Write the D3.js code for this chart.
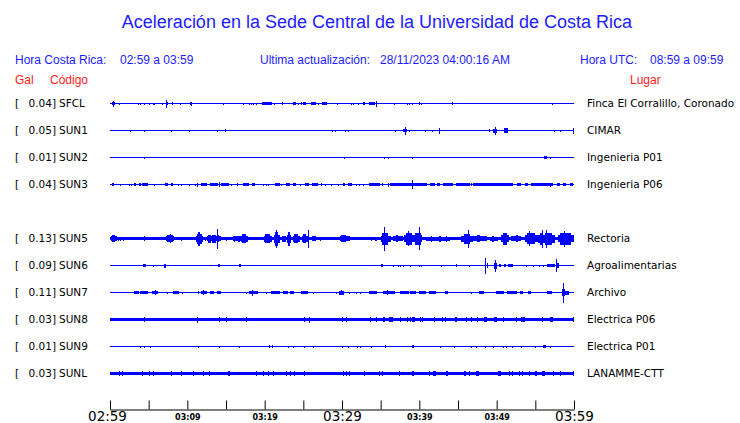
<!DOCTYPE html>
<html><head><meta charset="utf-8">
<script src="https://cdn.jsdelivr.net/npm/d3@7"></script>
<style>
html,body{margin:0;padding:0;background:#fff;}
svg{display:block;}
</style></head>
<body>
<script>
// ---------------- DATA ----------------
const title = "Aceleración en la Sede Central de la Universidad de Costa Rica";
const horaCR = "02:59 a 03:59";
const actualizacion = "28/11/2023 04:00:16 AM";
const horaUTC = "08:59 a 09:59";

// station rows (null = empty slot, SUN4 absent)
const codes  = ["SFCL","SUN1","SUN2","SUN3",null,"SUN5","SUN6","SUN7","SUN8","SUN9","SUNL"];
const gal    = ["0.04","0.05","0.01","0.04",null,"0.13","0.09","0.11","0.03","0.01","0.03"];
const places = ["Finca El Corralillo, Coronado","CIMAR","Ingenieria P01","Ingenieria P06",null,
                "Rectoria","Agroalimentarias","Archivo","Electrica P06","Electrica P01","LANAMME-CTT"];
// background noise level of each trace (amplitude units)
const noise  = [0.6,0.5,0.5,0.6,null,1.5,0.5,0.5,1.7,0.5,1.7];

// tick minutes (from 02:59) and labels
const tickMinutes = [0,5,10,15,20,25,30,35,40,45,50,55,60];
const labelMinutes = [0,10,20,30,40,50,60];
const labelText = ["02:59","03:09","03:19","03:29","03:39","03:49","03:59"];
const bigLabels = ["02:59","03:29","03:59"];

// events: [startMinute, endMinute, amplitude]
const evSFCL = [[0.43,0.43,3],[0.3,0.6,1.3],[1.29,1.29,1],[3.66,3.66,1],[3.88,3.88,1],[4.44,4.44,1],[5.17,5.17,1],[5.6,5.8,1],[6.77,6.77,1],[7.33,7.33,4],[7.2,7.5,1.3],[8.1,8.1,1.3],[9.18,9.18,1],[10.3,10.6,1.5],[10.5,10.5,2],[11.3,11.3,0.8],[13.8,13.8,0.8],[14.65,14.65,1],[17.2,17.2,1],[18.0,18.0,1],[18.3,18.3,1],[18.6,18.6,1],[19.0,19.0,1],[19.6,20.9,1.5],[21.3,21.3,1],[22.2,22.4,1.3],[23.7,24.1,1.8],[24.4,24.4,1],[24.7,24.7,1.3],[25.0,25.4,1.3],[26.0,26.6,1.5],[26.9,26.9,1],[27.4,28.1,1.5],[29.4,29.4,1],[31.25,31.25,1],[31.47,31.47,1],[32.1,32.1,1],[32.76,32.97,1.2],[33.5,34.3,1.5],[34.5,34.5,3],[36.85,36.85,1],[38.5,38.5,1],[38.7,38.7,1],[39.1,39.1,1],[40.0,40.0,1.2],[40.3,40.3,1],[44.3,44.3,1.2],[54.6,54.6,0.8],[57.2,57.2,1],[58.3,58.3,0.8]];
const evSUN1 = [[2.7,2.7,1],[4.44,4.44,1],[7.9,7.9,1],[10.26,10.26,1],[13.9,13.9,1],[14.9,15.05,1.3],[23.8,23.8,0.7],[26.4,26.4,0.7],[28.75,28.75,1],[29.2,29.2,1],[30.4,30.4,1],[30.8,30.8,1],[36.85,36.9,1],[37.9,38.4,1.7],[38.2,38.2,4],[38.7,38.7,1],[39.7,39.7,0.8],[40.8,40.8,1],[41.7,41.7,1],[42.6,42.6,3],[42.5,42.7,1.3],[49.0,49.1,1.3],[49.5,50.0,2],[49.8,49.8,4],[50.9,51.5,2.3],[52.4,52.4,0.8],[57.5,57.5,1],[58.2,58.2,1],[59.95,59.95,3]];
const evSUN2 = [[4.44,4.44,1],[30.3,30.3,1],[35.5,35.5,1],[36.0,36.0,1],[39.1,39.1,1],[56.1,56.5,1.3],[57.0,57.0,1]];
const evSUN3 = [[0.2,0.55,1.5],[1.3,1.3,1],[2.5,2.5,1],[2.8,2.8,1],[3.1,3.3,1.2],[3.8,4.0,1.2],[4.2,4.9,1.3],[5.7,5.7,1],[7.1,7.5,1.3],[7.9,8.2,1.3],[8.8,8.8,1],[9.2,9.2,1],[10.3,10.3,1],[11.0,11.0,1],[11.3,11.3,2],[11.8,12.5,1.3],[12.9,14.0,1.5],[14.1,14.1,2.5],[14.4,15.4,1.3],[15.7,15.7,1],[16.4,16.6,1.2],[17.2,18.0,1.3],[18.4,18.8,1.3],[19.8,19.8,1],[20.3,20.3,1],[20.5,20.5,1],[21.4,22.0,1.3],[22.2,22.2,1],[22.8,23.3,1.3],[23.6,24.1,1.3],[24.6,24.6,1],[25.2,25.7,1.3],[26.1,26.9,1.3],[27.4,27.4,1.2],[27.9,27.9,1],[28.6,28.6,1],[29.5,29.5,1],[30.1,30.4,1.2],[30.8,31.25,1.2],[31.9,31.9,1],[32.3,32.3,1],[32.8,32.8,1],[33.5,34.9,1.3],[35.3,35.3,1.5],[36.0,36.0,2],[36.2,39.0,1.3],[39.1,39.1,4.5],[39.2,41.0,1.3],[40.0,40.0,1.8],[41.4,42.0,1.1],[42.3,42.7,1.1],[43.1,44.4,1.2],[44.8,46.6,1.2],[46.8,46.8,1.8],[47.0,48.7,1.2],[48.7,52.1,1.3],[52.6,53.2,1.2],[53.7,54.1,1.2],[54.5,57.3,1.3],[56.9,56.9,2],[57.75,58.2,1.2],[58.6,59.0,1.2],[59.5,59.9,1.2]];
const evSUN5 = [[0.1,0.9,2.5],[0.2,0.7,3.5],[1.1,1.1,2],[1.4,1.4,2],[1.7,1.7,2],[2.3,2.3,1.8],[2.9,2.9,1.8],[3.6,3.6,1.8],[3.9,3.9,1.8],[4.4,4.4,2.5],
  [7.2,8.3,2.5],[7.4,8.1,3.5],[7.7,7.8,4.5],[9.3,9.3,2],
  [11.15,12.05,3],[11.25,11.9,5],[11.4,11.7,7],[12.3,12.3,2],
  [12.5,14.3,2.5],[12.7,13.0,4],[13.2,13.7,4],[13.9,13.9,10],[14.0,14.15,3.5],[15.1,15.1,2],
  [15.9,16.9,2.5],[16.0,16.2,3],[16.6,16.8,3],[16.9,17.9,3],[17.1,17.6,4.5],
  [19.9,21.0,3],[20.1,20.7,4.5],[21.2,21.95,4],[21.35,21.75,7],[21.55,21.55,9],
  [22.2,22.8,3],[22.9,23.4,4],[23.05,23.25,7],[23.6,24.6,3],[23.8,24.3,4.5],
  [24.8,25.6,3],[25.0,25.4,4.5],[25.7,25.7,9],[26.1,26.6,2.5],[27.2,27.2,2],
  [29.7,31.0,2.5],[29.9,30.5,3.5],[31.4,31.4,1.5],[33.8,33.8,2],[34.3,34.3,2],[34.5,34.5,2],
  [35.0,36.3,3],[35.2,35.9,6],[35.5,35.5,12],[36.6,37.9,2.5],[37.0,37.3,3.5],
  [38.0,40.4,3.5],[38.3,39.1,6],[39.5,40.2,6],[38.6,38.6,7.5],[40.0,40.0,11.5],
  [40.9,44.0,2],[41.5,41.7,3],[42.6,42.8,3],[43.4,43.6,3],
  [45.4,46.9,3],[45.8,46.5,5],[46.3,46.3,9],[47.0,48.7,2.5],[47.5,47.9,3.5],
  [49.1,50.2,2],[49.4,49.6,3],[50.6,51.6,3.5],[50.8,51.3,6],[51.9,53.2,2.5],[52.5,52.7,3.5],
  [53.6,55.3,3.5],[53.9,55.0,5.5],[54.3,54.3,7.5],
  [55.4,57.6,4],[55.6,56.0,6],[56.3,57.2,6],[55.9,55.9,9],[56.5,56.5,9],
  [57.9,60.0,3.5],[58.2,59.6,6],[58.8,58.8,8]];
const evSUN6 = [[4.3,4.6,1.3],[5.6,5.6,1],[7.0,7.2,2],[8.7,8.7,0.7],[11.4,11.4,0.8],[14.0,14.2,1.5],[15.8,15.8,0.8],[16.7,16.9,1.3],[21.6,21.6,0.8],[25.3,25.3,0.8],[35.0,35.3,1.3],[36.6,36.6,1],[37.3,37.3,1],[37.6,37.6,1],[38.0,38.0,1],[38.8,38.8,1],[40.0,40.0,1],[40.3,40.3,1],[42.2,42.2,0.8],[42.9,42.9,1],[44.8,44.9,1.3],[46.5,46.5,1],[48.6,48.6,8],[48.8,48.8,2.5],[49.7,50.0,3],[49.85,49.85,6],[50.3,50.6,1.5],[50.9,51.2,1.5],[51.5,52.1,1.5],[53.9,53.9,1],[54.7,54.7,1],[55.5,55.5,1],[56.0,56.0,1],[56.5,57.5,1.5],[57.7,57.7,6.5],[57.8,58.1,2.5]];
const evSUN7 = [[3.1,3.7,1.3],[3.9,4.95,1.5],[5.4,6.2,1.5],[5.85,5.85,2.5],[7.45,7.45,1],[8.2,8.9,1.5],[9.4,9.4,1],[11.4,11.4,1.5],[11.8,12.6,1.5],[12.9,13.4,1.5],[12.1,12.1,2.5],[13.8,14.35,1.5],[17.7,17.7,1],[18.0,19.2,1.7],[18.4,18.4,3],[20.3,20.3,1],[20.8,22.0,1.5],[22.4,23.0,1.5],[23.3,23.8,1.5],[24.7,25.6,1.5],[26.3,26.3,1],[29.3,29.3,1],[29.65,30.2,2],[29.9,29.9,2.5],[31.0,31.0,1],[31.9,31.9,1],[32.4,32.4,1],[33.5,34.5,1.5],[35.3,36.85,1.5],[35.9,35.9,2.5],[37.5,38.6,1.5],[38.8,39.6,1.5],[39.9,40.9,1.5],[41.3,42.2,1.5],[43.3,43.75,1.5],[46.8,46.8,1],[47.75,48.4,1.5],[49.9,51.0,1.5],[51.3,52.6,1.5],[53.0,53.4,1.3],[54.1,54.5,1.3],[56.5,57.2,1.3],[58.4,59.3,2],[58.5,58.8,3.5],[58.6,58.6,10]];
const evSUN8 = [[4.5,4.5,2.5],[11.3,11.3,3],[14.2,14.2,2.5],[15.05,15.05,2.5],[17.6,17.6,2.5],[25.2,25.2,2.5],[25.8,25.8,3],[30.0,30.15,2.5],[30.5,30.7,2.5],[33.7,33.7,2.5],[34.5,34.5,2.5],[35.25,35.55,2.5],[36.1,36.6,2.5],[37.6,37.6,2.5],[38.5,38.5,2.5],[38.8,38.8,2.5],[39.1,39.4,2.5],[40.1,40.1,2.5],[40.4,40.4,2.5],[42.0,42.0,2.5],[43.0,43.0,2.5],[43.4,43.4,2.5],[44.6,44.9,2.5],[46.1,46.1,2.5],[46.8,46.8,2.5],[47.5,47.5,2.5],[48.3,48.7,2.5],[49.6,50.0,2.5],[50.9,50.9,2.5],[52.6,52.6,2.5],[53.2,53.7,2.5],[55.8,56.0,2.5],[56.9,57.3,2.5],[59.9,60.0,2.5]];
const evSUN9 = [[4.0,4.0,1],[4.4,4.4,1],[5.3,5.3,1],[11.4,11.4,1],[14.1,14.1,1],[16.7,16.7,1],[20.5,20.55,1.3],[21.0,21.1,1.3],[23.1,23.1,1],[23.7,23.7,1],[25.2,25.2,1],[26.3,26.3,1],[30.0,30.0,1],[30.9,30.9,1],[32.0,32.0,1],[32.4,32.4,1],[33.75,33.75,1],[35.5,35.6,1.3],[39.0,39.3,1.3],[42.7,42.7,1],[44.6,44.6,1],[46.7,46.7,1],[47.4,47.4,1],[48.6,48.6,1],[49.6,49.6,1],[50.9,50.9,1],[51.3,51.3,1],[52.1,52.1,1],[53.2,53.2,1],[55.0,55.0,1],[56.0,56.4,1.3],[57.0,57.0,1]];
const evSUNL = [[1.1,1.15,2.3],[1.5,1.6,2.3],[4.2,4.2,2.3],[5.1,5.2,2.3],[5.6,5.7,2.3],[7.9,7.9,2.3],[9.3,9.3,2.3],[10.8,10.8,2.3],[12.1,12.1,2.3],[12.85,12.85,2.3],[15.2,15.5,2.5],[19.0,19.0,2.3],[19.8,19.8,2.3],[20.5,20.5,2.3],[21.2,21.2,2.3],[22.8,22.8,2.3],[23.3,23.3,2.3],[23.9,23.9,2.3],[25.2,25.2,2.3],[30.25,30.25,2.3],[30.6,30.6,2.3],[31.0,31.0,2.3],[32.97,32.97,2.3],[34.9,34.9,2.3],[35.25,35.25,2.3],[37.4,37.4,2.3],[39.0,39.3,2.5],[41.3,41.3,2.3],[41.8,42.2,2.3],[43.45,43.45,2.3],[43.65,43.65,2.3],[45.8,45.8,2.3],[46.0,46.0,2.3],[46.55,46.55,2.3],[47.3,47.75,2.3],[50.2,50.6,2.5],[51.7,51.7,2.3],[52.1,52.1,2.3],[53.0,53.0,2.3],[53.4,53.4,2.3],[54.2,54.2,2.3],[55.0,55.25,2.3],[55.8,56.25,2.5],[57.3,57.3,2.3],[58.2,58.2,2.3],[59.9,59.9,2.3]];
const events = [evSFCL, evSUN1, evSUN2, evSUN3, null, evSUN5, evSUN6, evSUN7, evSUN8, evSUN9, evSUNL];

// ---------------- DRAW ----------------
const W = 740, H = 423;
const BLUE_TXT = "#1c1cff", RED_TXT = "#ff1c1c", TRACE = "#0000ff";
const svg = d3.select("body").append("svg").attr("width", W).attr("height", H);

const x = d3.scaleLinear().domain([0, 60]).range([110, 574]);
const y = d3.scalePoint().domain(d3.range(codes.length)).range([103.5, 373.5]);
const amp = d3.scaleLinear().domain([0, 12]).range([0, 12]);

// title & headers
svg.append("text").attr("x", 377).attr("y", 28).attr("text-anchor", "middle")
  .attr("font-family", "Liberation Sans, Arial, sans-serif").attr("font-size", 18)
  .attr("fill", BLUE_TXT).text(title);

const hdr = svg.append("g").attr("font-family", "Liberation Sans, Arial, sans-serif")
  .attr("font-size", 12).attr("fill", BLUE_TXT);
hdr.append("text").attr("x", 15).attr("y", 64).text("Hora Costa Rica:");
hdr.append("text").attr("x", 120).attr("y", 64).text(horaCR);
hdr.append("text").attr("x", 260).attr("y", 64).text("Ultima actualización:");
hdr.append("text").attr("x", 380).attr("y", 64).text(actualizacion);
hdr.append("text").attr("x", 580).attr("y", 64).text("Hora UTC:");
hdr.append("text").attr("x", 650).attr("y", 64).text(horaUTC);

const sub = svg.append("g").attr("font-family", "Liberation Sans, Arial, sans-serif")
  .attr("font-size", 12).attr("fill", RED_TXT);
sub.append("text").attr("x", 15).attr("y", 84).text("Gal");
sub.append("text").attr("x", 50).attr("y", 84).text("Código");
sub.append("text").attr("x", 630).attr("y", 84).text("Lugar");

// rows
const rows = svg.append("g");
codes.forEach((c, i) => {
  if (c === null) return;
  const cy = y(i);
  const g = rows.append("g");
  const lab = g.append("g").attr("font-family", "DejaVu Sans, sans-serif").attr("font-size", 10.5).attr("fill", "#000");
  lab.append("text").attr("x", 15).attr("y", cy + 3.5).text("[");
  lab.append("text").attr("x", 56).attr("y", cy + 3.5).attr("text-anchor", "end").text(gal[i] + "]");
  lab.append("text").attr("x", 59).attr("y", cy + 3.5).text(c);
  lab.append("text").attr("x", 587).attr("y", cy + 3.5).text(places[i]);

  const tr = g.append("g").attr("fill", TRACE).attr("shape-rendering", "crispEdges");
  const nb = amp(noise[i]);
  tr.append("rect").attr("x", x(0)).attr("width", x(60) - x(0))
    .attr("y", cy - nb).attr("height", 2 * nb);
  tr.selectAll("rect.ev").data(events[i]).join("rect").attr("class", "ev")
    .attr("x", d => x(d[0]) - (d[1] === d[0] ? 0.5 : 0))
    .attr("width", d => Math.max(1, x(d[1]) - x(d[0])))
    .attr("y", d => cy - amp(d[2]))
    .attr("height", d => 2 * amp(d[2]));
});

// time axis
const axis = d3.axisBottom(x).tickValues(tickMinutes).tickSize(-9).tickSizeOuter(0)
  .tickFormat(m => { const k = labelMinutes.indexOf(m); return k >= 0 ? labelText[k] : ""; });
const ax = svg.append("g").attr("transform", "translate(0,409.5)").call(axis);
ax.select(".domain").attr("stroke", "#000");
ax.selectAll(".tick line").attr("stroke", "#000");
ax.selectAll(".tick text")
  .attr("fill", "#000")
  .attr("font-family", "DejaVu Sans, sans-serif")
  .attr("dy", null)
  .attr("x", function(){ const t = d3.select(this).text(); return t === "02:59" ? -3 : 0; })
  .attr("y", function(){ const t = d3.select(this).text(); return bigLabels.includes(t) ? 11.5 : 10.5; })
  .attr("font-size", function(){ const t = d3.select(this).text(); return bigLabels.includes(t) ? 13.5 : 8; })
  .attr("font-weight", function(){ const t = d3.select(this).text(); return bigLabels.includes(t) ? "normal" : "bold"; });
</script>
</body></html>
